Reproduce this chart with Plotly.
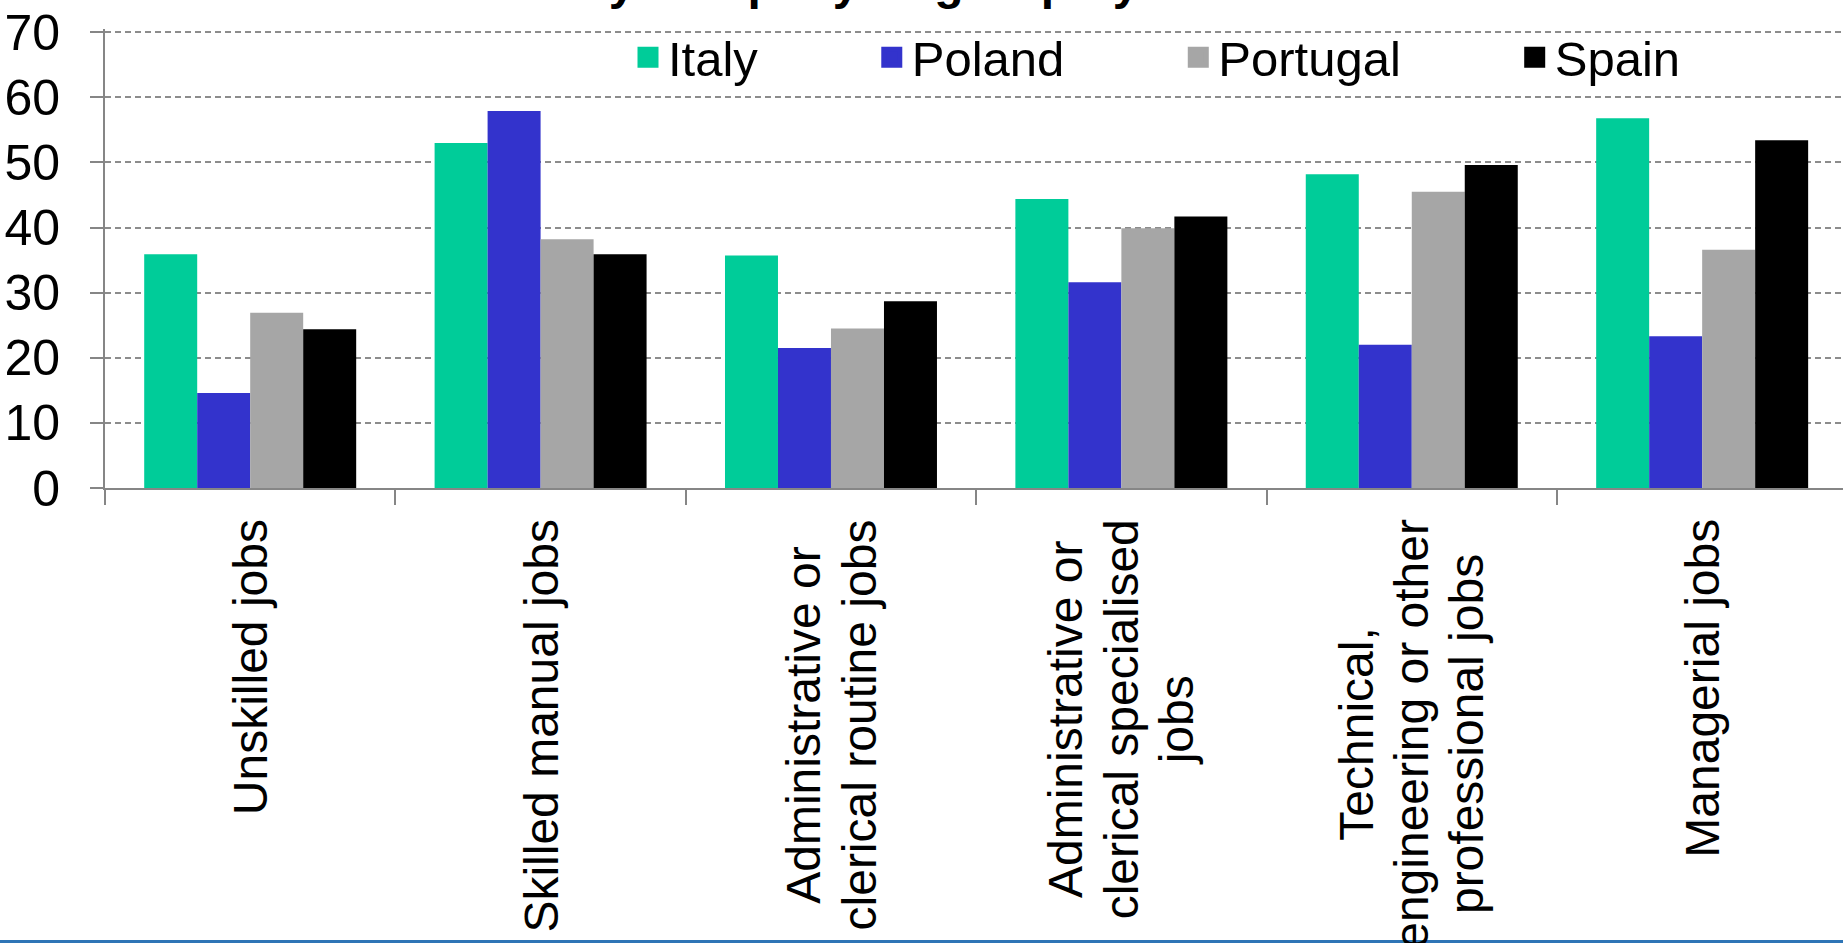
import plotly.graph_objects as go

categories = [
    "Unskilled jobs",
    "Skilled manual jobs",
    "Administrative or<br>clerical routine jobs",
    "Administrative or<br>clerical specialised<br>jobs",
    "Technical,<br>engineering or other<br>professional jobs",
    "Managerial jobs",
]
countries = ["Italy", "Poland", "Portugal", "Spain"]
italy = [35.9, 53.0, 35.7, 44.4, 48.2, 56.8]
poland = [14.6, 57.9, 21.5, 31.6, 22.0, 23.3]
portugal = [26.9, 38.2, 24.5, 39.9, 45.5, 36.6]
spain = [24.4, 35.9, 28.7, 41.7, 49.6, 53.4]
series = [italy, poland, portugal, spain]
colors = ["#00CC99", "#3333CC", "#A6A6A6", "#000000"]
y_ticks = [0, 10, 20, 30, 40, 50, 60, 70]
title_text = "Share of staff trained by company or group by role"

FONT = "Liberation Sans, Arial, sans-serif"
AXIS_GREY = "#868686"

fig = go.Figure()
for name, vals, col in zip(countries, series, colors):
    fig.add_trace(go.Bar(x=categories, y=vals, name=name, marker_color=col,
                         marker_line_width=0, showlegend=False))
# legend entries
for name, col in zip(countries, colors):
    fig.add_trace(go.Scatter(x=[None], y=[None], mode="markers",
                             name=name + "\u00a0" * 8,
                             marker=dict(symbol="square", size=16, color=col,
                                         line=dict(color=col, width=5)),
                             showlegend=True))

L, T, B = 105, 29, 455
H, W = 943, 1843
ph = H - T - B
pw = W - L
zero_px = H - B

annotations = []
for c in categories:
    lines = c.split("<br>")
    txt = "<br>".join("<span style='font-size:48px'>%s</span>" % ln for ln in lines)
    annotations.append(dict(x=c, xref="x", y=-(517 - zero_px) / ph, yref="paper",
                            text=txt, textangle=-90, showarrow=False,
                            xanchor="center", yanchor="top", align="center",
                            font=dict(family=FONT, size=42.5, color="black")))
annotations.append(dict(x=(84 - L) / pw, xref="paper", y=1 + (T + 17) / ph, yref="paper",
                        text="<b>" + title_text + "</b>", showarrow=False,
                        xanchor="left", yanchor="middle",
                        font=dict(family=FONT, size=48, color="black")))

fig.update_layout(
    width=W, height=H,
    margin=dict(l=L, r=0, t=T, b=B, pad=0),
    paper_bgcolor="white", plot_bgcolor="white",
    barmode="group", bargap=0.27, bargroupgap=0,
    font=dict(family=FONT, size=49, color="black"),
    legend=dict(orientation="h", x=(628 - L) / pw, xanchor="left",
                y=(zero_px - 57.5) / ph, yanchor="middle",
                font=dict(family=FONT, size=49, color="black"),
                bgcolor="rgba(0,0,0,0)", borderwidth=0),
    annotations=annotations,
    shapes=[dict(type="line", xref="paper", yref="paper",
                 x0=-L / pw, x1=1, y0=-(941.5 - zero_px) / ph, y1=-(941.5 - zero_px) / ph,
                 line=dict(color="#2E75B6", width=3))],
)
fig.update_xaxes(
    type="category", range=[-0.5, 5.485],
    showticklabels=False, showline=True, linecolor=AXIS_GREY, linewidth=2,
    ticks="outside", tickson="boundaries", ticklen=15, tickwidth=2, tickcolor=AXIS_GREY,
    showgrid=False, zeroline=False,
)
fig.update_yaxes(
    range=[0, 70.5], tickvals=y_ticks, ticktext=[str(v) for v in y_ticks],
    showline=True, linecolor=AXIS_GREY, linewidth=2,
    ticks="outside", ticklen=13, tickwidth=2, tickcolor=AXIS_GREY,
    ticklabelstandoff=20,
    tickfont=dict(family=FONT, size=50, color="black"),
    showgrid=True, gridcolor="#8c8c8c", gridwidth=1.5, griddash="6px,4px",
    zeroline=False,
)

fig.write_html("out.html")
